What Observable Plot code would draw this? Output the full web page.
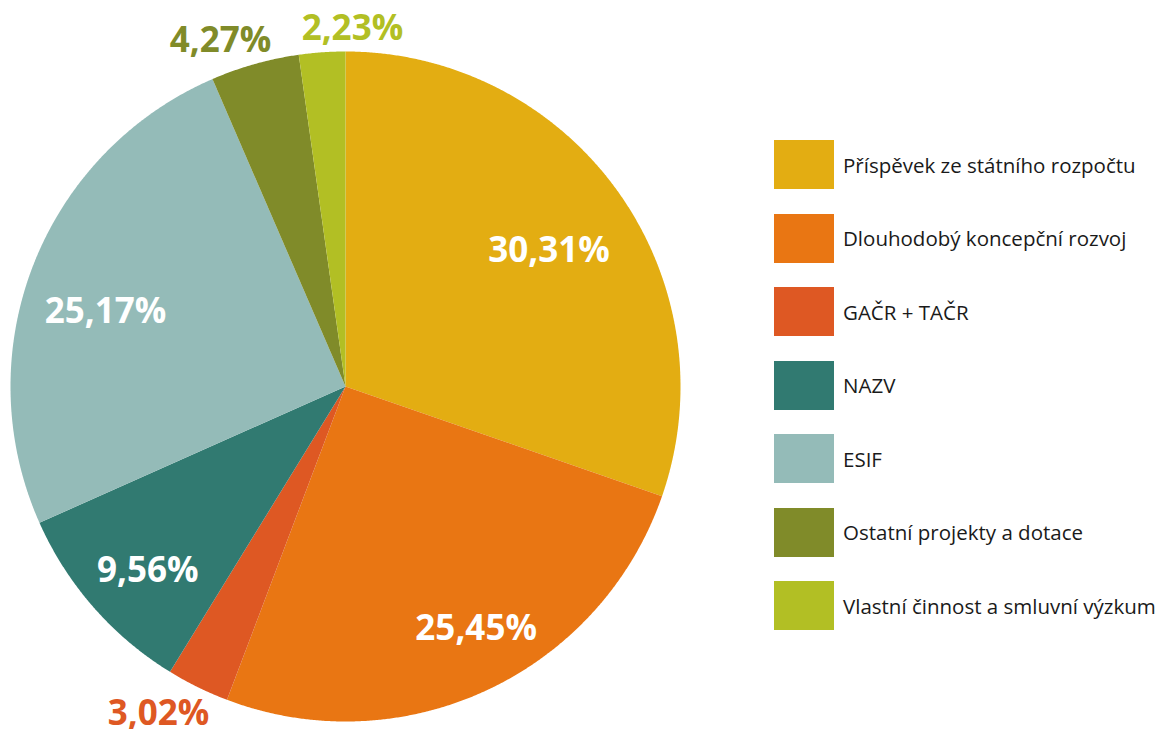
<!DOCTYPE html>
<html>
<head>
<meta charset="utf-8">
<script src="https://cdn.jsdelivr.net/npm/d3@7"></script>
<script src="https://cdn.jsdelivr.net/npm/@observablehq/plot@0.6"></script>
<style>
  html, body { margin: 0; padding: 0; background: #fff; }
  #wrap { position: relative; width: 1161px; height: 729px; overflow: hidden; }
  #chart { position: absolute; left: 0; top: 0; }
  #legend { position: absolute; left: 774px; top: 140px; font-family: "Open Sans", "Noto Sans", sans-serif; font-size: 20.5px; color: #1a1a1a; }
  .item { display: flex; align-items: center; height: 49px; margin-bottom: 24.5px; }
  .sw { width: 60px; height: 49px; margin-right: 9px; flex: none; }
</style>
</head>
<body>
<div id="wrap"><div id="chart"></div><div id="legend"></div></div>
<script>
const categories = [
  "Příspěvek ze státního rozpočtu",
  "Dlouhodobý koncepční rozvoj",
  "GAČR + TAČR",
  "NAZV",
  "ESIF",
  "Ostatní projekty a dotace",
  "Vlastní činnost a smluvní výzkum"
];
const shares = [30.31, 25.45, 3.02, 9.56, 25.17, 4.27, 2.23];
const labels = ["30,31%", "25,45%", "3,02%", "9,56%", "25,17%", "4,27%", "2,23%"];
const colors = ["#E3AD12", "#E97613", "#DE5823", "#317A71", "#94BBB8", "#808B29", "#B2BF24"];

// label placement (code, not data): radius factor and pixel nudges
const labelStyle = [
  {r: 0.72, dx: 7, dy: 4, inside: true},
  {r: 0.80, dx: 17, dy: 0, inside: true},
  {r: 1.11, dx: -23, dy: -6, inside: false},
  {r: 0.80, dx: 4, dy: 8, inside: true},
  {r: 0.75, dx: -6, dy: 17, inside: true},
  {r: 1.09, dx: -26, dy: 6, inside: false},
  {r: 1.07, dx: 32, dy: 0, inside: false}
];

const total = d3.sum(shares);
let acc = 0;
const slices = shares.map((v, i) => {
  const a0 = acc / total * 2 * Math.PI;
  acc += v;
  const a1 = acc / total * 2 * Math.PI;
  return {i, category: categories[i], value: v, label: labels[i], a0, a1};
});

const features = slices.map(s => {
  const ring = [[0, 0]];
  const n = Math.max(4, Math.ceil((s.a1 - s.a0) / (Math.PI / 720)));
  for (let k = 0; k <= n; k++) {
    const a = s.a0 + (s.a1 - s.a0) * k / n;
    ring.push([Math.sin(a), Math.cos(a)]);
  }
  ring.push([0, 0]);
  return {type: "Feature", properties: {category: s.category, i: s.i}, geometry: {type: "Polygon", coordinates: [ring]}};
});

const labelData = slices.map(s => {
  const st = labelStyle[s.i];
  const m = (s.a0 + s.a1) / 2;
  return {label: s.label, x: st.r * Math.sin(m), y: st.r * Math.cos(m), dx: st.dx, dy: st.dy, color: st.inside ? "#ffffff" : colors[s.i]};
});

const domain = {type: "MultiPoint", coordinates: [[-1, -1], [1, 1]]};

const chart = Plot.plot({
  width: 1161,
  height: 729,
  marginLeft: 10,
  marginRight: 481,
  marginTop: 51,
  marginBottom: 8,
  projection: {type: "reflect-y", domain, clip: false},
  color: {domain: categories, range: colors},
  marks: [
    Plot.geo(features, {fill: d => d.properties.category, stroke: "none"}),
    ...labelData.map(d => Plot.text([d], {
      x: "x", y: "y", text: "label",
      dx: d.dx, dy: d.dy,
      fill: d.color,
      fontSize: 35, fontWeight: "bold",
      fontFamily: "'Open Sans', 'Noto Sans', sans-serif",
      textAnchor: "middle", lineAnchor: "middle"
    }))
  ],
  style: {background: "transparent", overflow: "visible"}
});
document.getElementById("chart").appendChild(chart);

const legend = d3.select("#legend");
categories.forEach((c, i) => {
  const it = legend.append("div").attr("class", "item");
  it.append("div").attr("class", "sw").style("background", colors[i]);
  it.append("span").text(c);
});
</script>
</body>
</html>
